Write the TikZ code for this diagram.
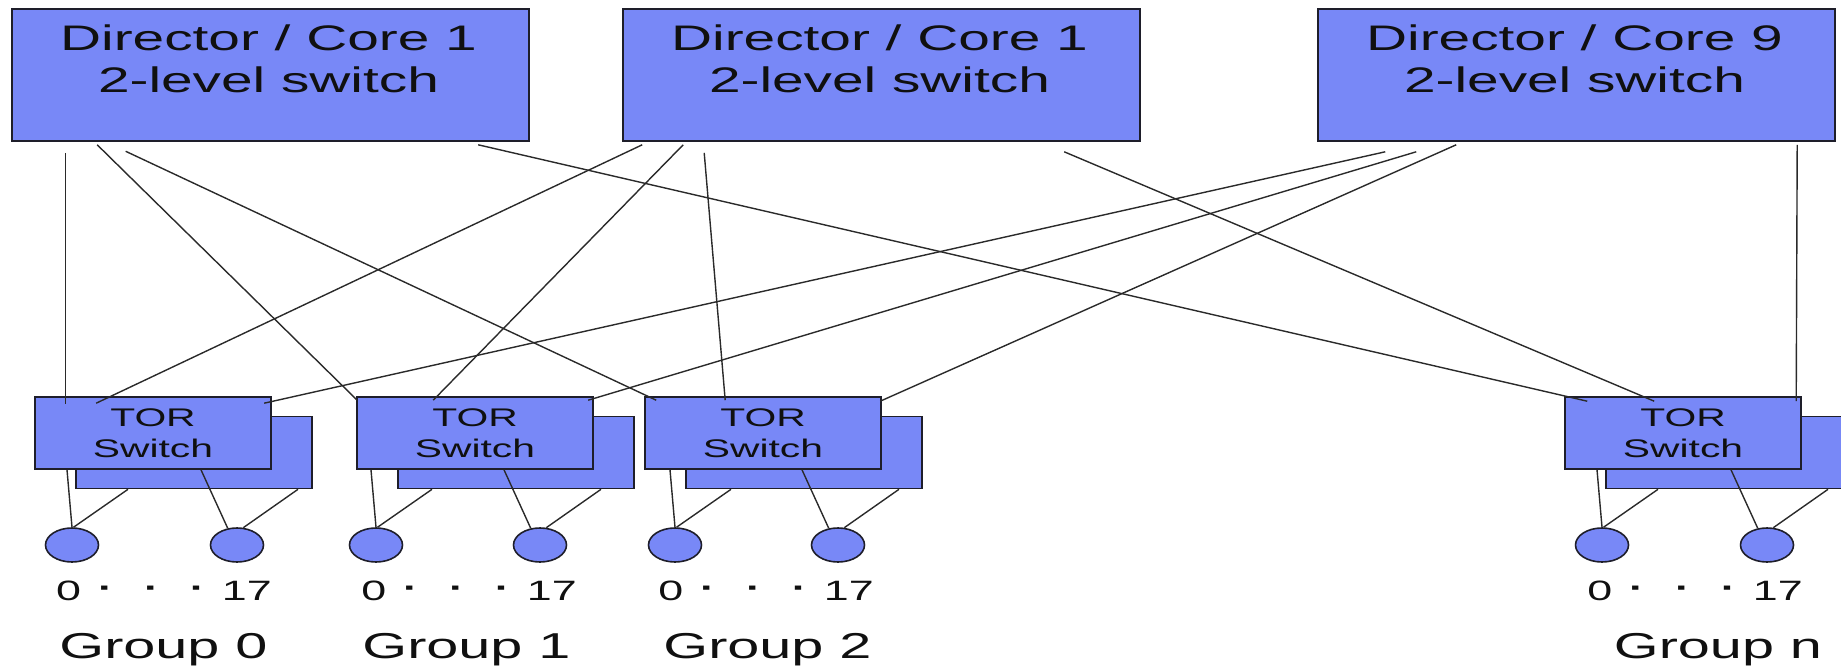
\documentclass[tikz,border=0pt]{standalone}
\usepackage{fontspec}
\usepackage{xcolor}
\usepackage{tikz}
\usetikzlibrary{
  positioning,
  calc,
  shapes.geometric
}
\newfontfamily\dcfont[FakeStretch=1.6]{Liberation Sans}
\definecolor{dcFill}{HTML}{7888F7}
\definecolor{dcEdge}{HTML}{1E1E2A}
\definecolor{dcWire}{HTML}{2A2A2A}
\definecolor{dcText}{HTML}{101010}
\newcommand{\pdot}{\raisebox{3pt}{\textbf{·}}}
\tikzset{
  dcnode/.style={draw=dcEdge, fill=dcFill, line width=1.6pt, inner sep=0pt, text=dcText},
  corebox/.style={dcnode, minimum width=517pt, minimum height=132pt},
  corelabel/.style={font=\dcfont\fontsize{35.5}{42}\selectfont, align=center, inner sep=0pt, anchor=north, text=dcText},
  torbox/.style={dcnode, minimum width=236pt, minimum height=72pt, align=center, font=\dcfont\fontsize{25.5}{31}\selectfont},
  torback/.style={dcnode, minimum width=236pt, minimum height=72pt},
  hostnode/.style={dcnode, ellipse, minimum width=53pt, minimum height=34pt},
  wire/.style={dcWire, line width=1.4pt},
  portlabel/.style={font=\dcfont\fontsize{28}{32}\selectfont, anchor=base, inner sep=0pt, text=dcText},
  grouplabel/.style={font=\dcfont\fontsize{36}{42}\selectfont, anchor=base, inner sep=0pt, text=dcText}
}

\begin{document}
\begin{tikzpicture}[x=1pt, y=-1pt]
  \useasboundingbox (0,0) rectangle (1841,668);
  % core switches
  \node[corebox] (core1) at (270.5,75) {};
  \node[corebox] (core2) at (881.5,75) {};
  \node[corebox] (core3) at (1576.5,75) {};
  \node[corelabel] (core1t) at ($(core1.north)+(-2,16)$) {Director / Core 1\\2-level switch};
  \node[corelabel] (core2t) at ($(core2.north)+(-2,16)$) {Director / Core 1\\2-level switch};
  \node[corelabel] (core3t) at ($(core3.north)+(-2,16)$) {Director / Core 9\\2-level switch};

  % top of rack pairs
  \node[torback] (tor0b) at (194,452.5) {};
  \node[torbox] (tor0) at (153,433) {TOR\\Switch};
  \node[torback] (tor1b) at (516,452.5) {};
  \node[torbox] (tor1) at (475,433) {TOR\\Switch};
  \node[torback] (tor2b) at (804,452.5) {};
  \node[torbox] (tor2) at (763,433) {TOR\\Switch};
  \node[torback] (tornb) at (1724,452.5) {};
  \node[torbox] (torn) at (1683,433) {TOR\\Switch};

  % hosts
  \node[hostnode] (h0l) at (72,545) {};
  \node[hostnode] (h0r) at (237,545) {};
  \node[hostnode] (h1l) at (376,545) {};
  \node[hostnode] (h1r) at (540,545) {};
  \node[hostnode] (h2l) at (675,545) {};
  \node[hostnode] (h2r) at (838,545) {};
  \node[hostnode] (hnl) at (1602,545) {};
  \node[hostnode] (hnr) at (1767,545) {};

  \node[portlabel] (p0) at ($(h0l)+(92,55)$) {0\hspace{17pt}\pdot\hspace{31pt}\pdot\hspace{31pt}\pdot\hspace{17pt}17};
  \node[portlabel] (p1) at ($(h1l)+(93,55)$) {0\hspace{17pt}\pdot\hspace{31pt}\pdot\hspace{31pt}\pdot\hspace{17pt}17};
  \node[portlabel] (p2) at ($(h2l)+(91,55)$) {0\hspace{17pt}\pdot\hspace{31pt}\pdot\hspace{31pt}\pdot\hspace{17pt}17};
  \node[portlabel] (pn) at ($(hnl)+(93,55)$) {0\hspace{17pt}\pdot\hspace{31pt}\pdot\hspace{31pt}\pdot\hspace{17pt}17};
  \node[grouplabel] (g0) at (163.5,658) {Group 0};
  \node[grouplabel] (g1) at (466.5,658) {Group 1};
  \node[grouplabel] (g2) at (767.5,658) {Group 2};
  \node[grouplabel] (gn) at (1718,658) {Group n};

  % core to TOR
  \draw[wire] ($(core1.south west)+(54,11)$) -- ($(tor0.north west)+(31,8)$);
  \draw[wire] ($(core1.south west)+(86,3)$) -- ($(tor1.north west)+(1,4)$);
  \draw[wire] ($(core1.south west)+(114.5,9.5)$) -- ($(tor2.north west)+(12,4)$);
  \draw[wire] ($(core1.south west)+(467,3)$) -- ($(torn.north west)+(23,5)$);
  \draw[wire] ($(core2.south west)+(20,3)$) -- ($(tor0.north west)+(62,7)$);
  \draw[wire] ($(core2.south west)+(61,3)$) -- ($(tor1.north west)+(77,4)$);
  \draw[wire] ($(core2.south west)+(82,11)$) -- ($(tor2.north west)+(81,4)$);
  \draw[wire] ($(core2.south west)+(442,10)$) -- ($(torn.north west)+(90,5)$);
  \draw[wire] ($(core3.south west)+(68,10)$) -- ($(tor0.north west)+(230,7)$);
  \draw[wire] ($(core3.south west)+(99,10)$) -- ($(tor1.north west)+(232,4)$);
  \draw[wire] ($(core3.south west)+(139,3)$) -- ($(tor2.north west)+(236,5)$);
  \draw[wire] ($(core3.south west)+(480,3)$) -- ($(torn.north west)+(232,5)$);

  % TOR to hosts
  \draw[wire] ($(h0l.north |- tor0.south)+(-5,0)$) -- (h0l.north);
  \draw[wire] ($(h0l.north |- tor0b.south)+(56,0)$) -- (h0l.85);
  \draw[wire] ($(h0r.north |- tor0.south)+(-36,0)$) -- (h0r.119);
  \draw[wire] ($(h0r.north |- tor0b.south)+(61,0)$) -- (h0r.70);
  \draw[wire] ($(h1l.north |- tor1.south)+(-5,0)$) -- (h1l.north);
  \draw[wire] ($(h1l.north |- tor1b.south)+(56,0)$) -- (h1l.85);
  \draw[wire] ($(h1r.north |- tor1.south)+(-36,0)$) -- (h1r.119);
  \draw[wire] ($(h1r.north |- tor1b.south)+(61,0)$) -- (h1r.70);
  \draw[wire] ($(h2l.north |- tor2.south)+(-5,0)$) -- (h2l.north);
  \draw[wire] ($(h2l.north |- tor2b.south)+(56,0)$) -- (h2l.85);
  \draw[wire] ($(h2r.north |- tor2.south)+(-36,0)$) -- (h2r.119);
  \draw[wire] ($(h2r.north |- tor2b.south)+(61,0)$) -- (h2r.70);
  \draw[wire] ($(hnl.north |- torn.south)+(-5,0)$) -- (hnl.north);
  \draw[wire] ($(hnl.north |- tornb.south)+(56,0)$) -- (hnl.85);
  \draw[wire] ($(hnr.north |- torn.south)+(-36,0)$) -- (hnr.119);
  \draw[wire] ($(hnr.north |- tornb.south)+(61,0)$) -- (hnr.70);
\end{tikzpicture}
\end{document}
